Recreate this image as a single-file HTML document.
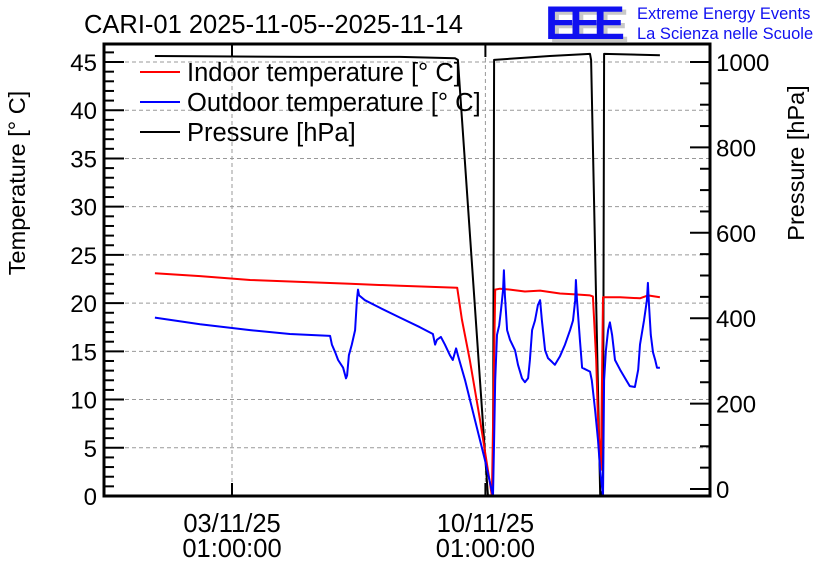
<!DOCTYPE html>
<html><head><meta charset="utf-8"><style>
body{margin:0;background:#fff;}
svg{display:block;font-family:"Liberation Sans",sans-serif;}
</style></head><body>
<svg id="chart" width="836" height="572" viewBox="0 0 836 572">
<rect width="836" height="572" fill="#fff"/>
<text x="84" y="33" font-size="25.5">CARI-01 2025-11-05--2025-11-14</text>
<g>
<text x="549" y="42" font-size="47" fill="#c8c8c8" font-weight="bold" textLength="80">EEE</text>
<text x="545" y="39" font-size="47" fill="#1010f0" font-weight="bold" textLength="80">EEE</text>
<text x="637" y="19" font-size="16.5" fill="#1010f0">Extreme Energy Events</text>
<text x="637" y="39" font-size="16.5" fill="#1010f0">La Scienza nelle Scuole</text>
</g>
<defs><clipPath id="pc"><rect x="104" y="44" width="606" height="452"/></clipPath></defs>
<g id="grid"></g>
<g id="series" clip-path="url(#pc)"></g>
<g id="axes"></g>
<g>
<g><line x1="140" y1="72" x2="180" y2="72" stroke="#ff0000" stroke-width="2"/><text x="187" y="81" font-size="25.5">Indoor temperature [° C]</text></g>
<g><line x1="140" y1="102" x2="180" y2="102" stroke="#0000ff" stroke-width="2"/><text x="187" y="111" font-size="25.5">Outdoor temperature [° C]</text></g>
<g><line x1="140" y1="132" x2="180" y2="132" stroke="#000" stroke-width="2"/><text x="187" y="141" font-size="25.5">Pressure [hPa]</text></g>
</g>
<text transform="translate(25,183) rotate(-90)" text-anchor="middle" font-size="23.5">Temperature [° C]</text>
<text transform="translate(804,163) rotate(-90)" text-anchor="middle" font-size="23.5">Pressure [hPa]</text>
</svg>
<script>
const tempTicks=[0,5,10,15,20,25,30,35,40,45];
const presTicks=[0,200,400,600,800,1000];
const dateTicks=[0,7];
const dateLabels1=["03/11/25","10/11/25"];
const dateLabels2=["01:00:00","01:00:00"];
const indoorT=[-2.13,-0.88,0.50,1.88,3.26,4.64,6.22,6.35,6.57,6.85,7.07,7.18,7.27,7.40,7.68,8.09,8.51,9.06,9.48,9.89,9.97,10.06,10.11,10.19,10.25,10.72,11.27,11.49,11.82];
const indoorV=[23.1,22.8,22.4,22.2,22.0,21.8,21.6,18.3,14.1,7.9,2.7,0,21.4,21.5,21.4,21.2,21.3,21.0,20.9,20.8,20.7,14.1,7.9,2.7,20.6,20.6,20.5,20.8,20.6];
const outdoorT=[-2.13,-0.88,0.50,1.60,2.71,2.76,2.85,2.93,3.07,3.15,3.18,3.23,3.31,3.40,3.45,3.48,3.51,3.67,4.09,4.64,5.19,5.55,5.61,5.66,5.77,5.88,6.02,6.10,6.19,6.24,6.44,6.71,6.99,7.21,7.24,7.27,7.32,7.38,7.43,7.49,7.51,7.54,7.60,7.68,7.82,7.90,8.01,8.09,8.18,8.23,8.29,8.37,8.45,8.51,8.56,8.65,8.73,8.84,8.92,9.06,9.20,9.34,9.42,9.48,9.50,9.53,9.61,9.67,9.89,9.94,10.03,10.11,10.17,10.25,10.28,10.33,10.39,10.44,10.50,10.58,10.72,10.86,10.99,11.13,11.22,11.27,11.38,11.46,11.49,11.52,11.57,11.63,11.69,11.74,11.82];
const outdoorV=[18.5,17.8,17.2,16.8,16.6,15.7,14.9,14.1,13.3,12.2,12.5,14.6,15.7,17.2,20.3,21.4,20.8,20.3,19.5,18.5,17.5,16.8,15.7,16.2,16.5,15.7,14.6,14.1,15.3,14.6,12.0,7.9,3.7,0,5.8,12.0,16.7,17.7,19.3,21.4,23.4,20.8,17.2,16.2,15.1,13.6,12.2,11.8,12.2,14.1,17.2,18.2,19.8,20.3,18.2,15.1,14.3,13.9,13.6,14.5,15.7,17.2,18.2,20.3,22.4,20.3,16.2,13.3,12.9,12.0,8.9,5.8,2.7,0,12.0,15.1,17.2,18.0,16.7,14.1,13.1,12.2,11.4,11.3,13.1,15.7,18.2,20.3,22.1,19.8,16.7,14.9,14.1,13.3,13.3];
const presT=[-2.13,1.88,4.64,6.16,6.24,7.07,7.18,7.21,7.24,8.78,9.89,9.92,10.17,10.19,10.25,10.28,11.82];
const presV=[1014,1012,1012,1009,1005,-15,-15,0,1005,1014,1019,1005,-15,-15,0,1019,1016];
const NS="http://www.w3.org/2000/svg";
const X0=104,X1=710,Y0=496,Y1=44;
const xs=d=>232+d*36.2;
const yt=v=>496-v*9.644;
const yp=v=>489-v*0.427;
function mk(tag,attrs,parent){const e=document.createElementNS(NS,tag);for(const k in attrs)e.setAttribute(k,attrs[k]);parent.appendChild(e);return e;}
const grid=document.getElementById('grid'),ser=document.getElementById('series'),ax=document.getElementById('axes');
tempTicks.forEach(v=>{if(v===0)return;const l=mk('line',{x1:X0,x2:X1,y1:yt(v),y2:yt(v),stroke:'#999','stroke-dasharray':'4,3'},grid);

});
dateTicks.forEach(d=>{const l=mk('line',{x1:xs(d),x2:xs(d),y1:Y1,y2:Y0,stroke:'#999','stroke-dasharray':'4,3'},grid);

});
function path(ts,vs,yf,color,name){let d='';ts.forEach((t,i)=>{d+=(i?'L':'M')+xs(t).toFixed(1)+','+yf(vs[i]).toFixed(1);});
const p=mk('path',{d:d,fill:'none',stroke:color,'stroke-width':2,'stroke-linejoin':'round'},ser);

}
path(presT,presV,yp,'#000','pressure-line');
path(indoorT,indoorV,yt,'#ff0000','indoor-temperature-line');
path(outdoorT,outdoorV,yt,'#0000ff','outdoor-temperature-line');
const fr=mk('rect',{x:X0,y:Y1,width:X1-X0,height:Y0-Y1,fill:'none',stroke:'#000','stroke-width':3},ax);


for(let v=0;v<=46;v++){const maj=v%5===0;mk('line',{x1:X0,x2:X0+(maj?20:10),y1:yt(v),y2:yt(v),stroke:'#000','stroke-width':2},ax);}
tempTicks.forEach(v=>{const t=mk('text',{x:97,y:yt(v)+9,'text-anchor':'end','font-size':24},ax);t.textContent=v;

});
for(let v=0;v<=1040;v+=50){const maj=v%200===0;mk('line',{x1:X1,x2:X1-(maj?20:10),y1:yp(v),y2:yp(v),stroke:'#000','stroke-width':2},ax);}
presTicks.forEach(v=>{const t=mk('text',{x:716,y:yp(v)+9,'font-size':24},ax);t.textContent=v;

});
dateTicks.forEach((d,i)=>{mk('line',{x1:xs(d),x2:xs(d),y1:Y0,y2:Y0-13,stroke:'#000','stroke-width':2},ax);
mk('line',{x1:xs(d),x2:xs(d),y1:Y1,y2:Y1+13,stroke:'#000','stroke-width':2},ax);
const a=mk('text',{x:xs(d),y:532,'text-anchor':'middle','font-size':25.5},ax);a.textContent=dateLabels1[i];


const b=mk('text',{x:xs(d),y:557,'text-anchor':'middle','font-size':25.5},ax);b.textContent=dateLabels2[i];

});
</script>
</body></html>
